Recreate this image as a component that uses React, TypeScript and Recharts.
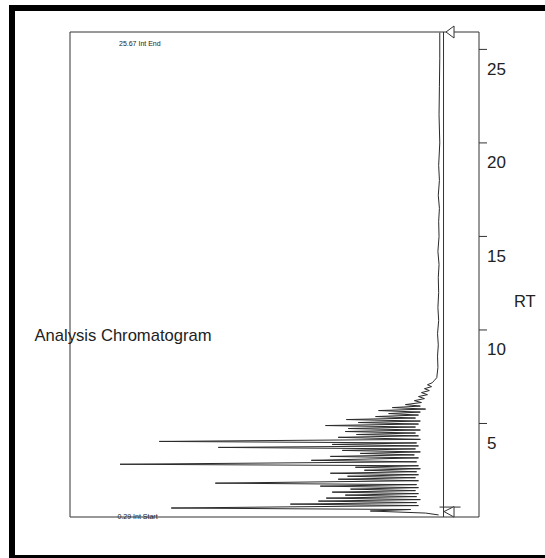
import React from "react";
import {
  LineChart,
  Line,
  XAxis,
  YAxis,
  ReferenceLine,
  ReferenceDot,
} from "recharts";

// retention time (min), read top to bottom
const rtValues = [
  25.9, 24.5, 23.0, 21.5, 20.0, 18.8, 18.0, 17.2, 16.5, 15.8, 15.0, 14.2, 13.5,
  12.8, 12.0, 11.2, 10.5, 9.8, 9.2, 8.6, 8.0, 7.45,
  7.29, 7.18, 7.07, 6.97, 6.86, 6.76, 6.65, 6.54, 6.44, 6.33, 6.22, 6.12,
  6.01, 5.93, 5.85, 5.77, 5.69, 5.61, 5.53, 5.45, 5.37, 5.29, 5.21, 5.13,
  5.05, 4.97, 4.89, 4.81, 4.73, 4.65, 4.57, 4.49, 4.41, 4.34, 4.26, 4.15,
  4.04, 3.96, 3.88, 3.8, 3.72, 3.64, 3.56, 3.48, 3.4, 3.32, 3.24, 3.16,
  3.03, 2.95, 2.82, 2.74, 2.66, 2.58, 2.5, 2.42, 2.34, 2.26, 2.18, 2.1,
  2.02, 1.94, 1.81, 1.73, 1.65, 1.57, 1.49, 1.41, 1.33, 1.25, 1.17, 1.09,
  1.01, 0.93, 0.85, 0.77, 0.69, 0.61, 0.48, 0.4, 0.32, 0.21, 0.11,
];

// detector response (arbitrary units)
const intensityValues = [
  1.0, 1.0, 1.1, 1.2, 1.0, 1.3, 1.1, 1.4, 1.1, 1.3, 1.2, 1.5, 1.2,
  1.4, 1.3, 1.5, 1.3, 1.6, 1.4, 1.6, 1.5, 1.8,
  2.5, 3.0, 4.3, 3.2, 5.1, 3.8, 5.9, 4.3, 6.7, 5.1, 7.8, 5.9,
  10.2, 6.2, 13.7, 4.8, 17.4, 6.2, 14.7, 6.7, 18.2, 7.5, 26.0, 6.2,
  22.8, 6.7, 31.6, 7.5, 25.5, 6.2, 26.3, 7.5, 23.3, 6.7, 28.2, 6.2,
  76.1, 7.2, 29.8, 6.7, 60.3, 7.5, 27.1, 6.2, 22.3, 7.8, 30.3, 6.7,
  35.4, 7.2, 86.6, 6.7, 23.6, 6.2, 21.2, 7.2, 30.3, 6.7, 25.7, 7.5,
  28.2, 6.7, 61.1, 7.2, 33.0, 6.7, 24.9, 7.5, 29.8, 6.7, 26.3, 7.2,
  31.4, 6.2, 33.5, 7.2, 41.0, 6.7, 72.9, 8.8, 19.6, 4.8, 1.3,
];

const rtTicks = [5, 10, 15, 20, 25];
const RT_MAX = 25.93;
const INT_START = 0.29;

const data = rtValues.map((rt, i) => ({ rt, intensity: intensityValues[i] }));

const INK = "#333";
const FONT = "'Liberation Sans', Arial, sans-serif";

const renderTick = (props: any) => {
  const { x, y, payload } = props;
  return (
    <text x={x - 2} y={y + 25.5} fill="#222" fontSize={17} fontFamily={FONT}>
      {payload.value}
    </text>
  );
};

const renderRtLabel = (props: any) => {
  const vb = props.viewBox || {};
  return (
    <text x={vb.x + 35} y={306.5} fill="#222" fontSize={16.5} fontFamily={FONT}>
      RT
    </text>
  );
};

// marker triangle pointing at the baseline
const endMarker = (p: any) => (
  <path
    d={`M${p.cx + 2.5},${p.cy} L${p.cx + 10.5},${p.cy - 6} L${p.cx + 10.5},${p.cy + 6} Z`}
    fill="#fff"
    stroke={INK}
    strokeWidth={1}
  />
);

const startMarker = (p: any) => (
  <g>
    <line x1={p.cx - 4} y1={p.cy - 4.5} x2={p.cx + 17} y2={p.cy - 4.5} stroke={INK} />
    <path
      d={`M${p.cx + 0.5},${p.cy} L${p.cx + 10.5},${p.cy - 5} L${p.cx + 10.5},${p.cy + 5.5} Z`}
      fill="#fff"
      stroke={INK}
      strokeWidth={1}
    />
  </g>
);

export default function App() {
  return (
    <div style={{ position: "absolute", left: 0, top: 0, width: 545, height: 558, background: "#fff" }}>
      {/* scan frame */}
      <div style={{ position: "absolute", left: 9, top: 5, width: 6, height: 553, background: "#000" }} />
      <div style={{ position: "absolute", left: 9, top: 5, width: 536, height: 6, background: "#000" }} />
      <div style={{ position: "absolute", left: 9, top: 555, width: 536, height: 3, background: "#000" }} />

      <div style={{ position: "absolute", left: 0, top: 0 }}>
        <LineChart
          width={545}
          height={558}
          layout="vertical"
          data={data}
          margin={{ top: 32, right: 6, bottom: 41, left: 70 }}
        >
          <XAxis
            type="number"
            dataKey="intensity"
            domain={[-9.5, 100]}
            reversed
            allowDataOverflow
            hide
          />
          <YAxis
            type="number"
            dataKey="rt"
            orientation="right"
            reversed
            domain={[0, RT_MAX]}
            allowDataOverflow
            ticks={rtTicks}
            width={60}
            tickSize={8}
            axisLine={{ stroke: INK }}
            tickLine={{ stroke: INK }}
            tick={renderTick}
            label={{ content: renderRtLabel }}
          />
          <ReferenceLine y={RT_MAX} stroke={INK} />
          <ReferenceLine y={0} stroke={INK} />
          <ReferenceLine x={100} stroke={INK} />
          <ReferenceLine x={0} stroke={INK} />
          <Line
            type="linear"
            dataKey="intensity"
            stroke="#2b2b2b"
            strokeWidth={1}
            dot={false}
            isAnimationActive={false}
          />
          <ReferenceDot x={0} y={RT_MAX} r={0} shape={endMarker} ifOverflow="visible" />
          <ReferenceDot x={0} y={INT_START} r={0} shape={startMarker} ifOverflow="visible" />
        </LineChart>
      </div>

      <svg width={545} height={558} style={{ position: "absolute", left: 0, top: 0, pointerEvents: "none" }}>
        <text x={34.5} y={340.5} fontSize={16.6} fontFamily={FONT} fill="#222">
          Analysis Chromatogram
        </text>
        <text x={119} y={45.5} fontSize={7} fontFamily={FONT} fill="#222">
          25.67 Int End
        </text>
        <text x={117.5} y={518.5} fontSize={7} fontFamily={FONT} fill="#222">
          0.29 Int Start
        </text>
      </svg>
    </div>
  );
}
